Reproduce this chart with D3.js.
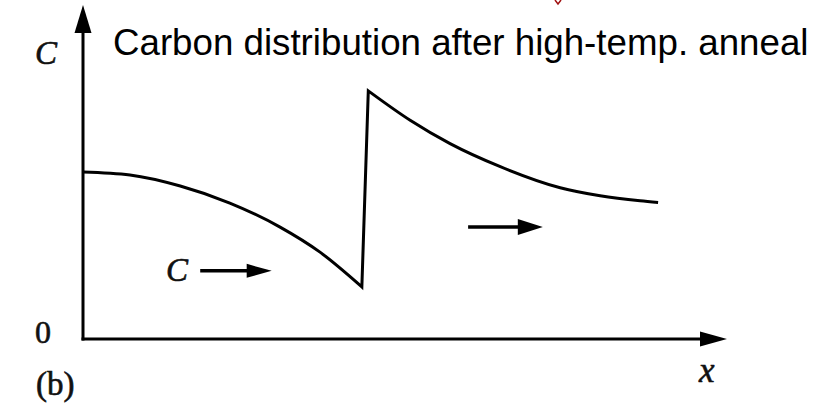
<!DOCTYPE html>
<html>
<head>
<meta charset="utf-8">
<script src="https://cdn.jsdelivr.net/npm/d3@7"></script>
<style>
  html, body { margin: 0; padding: 0; background: #fff; }
  svg { display: block; }
</style>
</head>
<body>
<svg id="chart" width="830" height="406"></svg>
<script>
// Carbon concentration profile (arbitrary units, x and C in 0–100)
const leftX  = [0, 7.3, 15.1, 22.8, 30.6, 36.8, 43.3];
const leftC  = [50.0, 49.1, 45.8, 40.7, 33.5, 26.0, 15.6];
const rightX = [44.3, 50.8, 57.0, 64.8, 74.1, 80.3, 86.5, 89.3];
const rightC = [74.3, 65.5, 58.5, 51.6, 45.3, 42.9, 41.4, 40.9];

// Axis and annotation labels
const yLabel = "C";
const xLabel = "x";
const originLabel = "0";
const panelLabel = "(b)";
const title = "Carbon distribution after high-temp. anneal";
const flowLabel = "C";

const svg = d3.select("#chart");
svg.append("rect").attr("width", 830).attr("height", 406).attr("fill", "#fff");

const x = d3.scaleLinear().domain([0, 100]).range([83, 727]);
const y = d3.scaleLinear().domain([0, 100]).range([339, 5]);

// Arrow-headed axes
const axisColor = "#000";
const ax = svg.append("g");
ax.append("line")
  .attr("x1", x(0)).attr("y1", y(0) + 1.5)
  .attr("x2", x(0)).attr("y2", y(100) + 20)
  .attr("stroke", axisColor).attr("stroke-width", 3);
ax.append("path")
  .attr("d", `M${x(0)},${y(100)} L${x(0) - 8.5},${y(100) + 28} L${x(0) + 8.5},${y(100) + 28} Z`)
  .attr("fill", axisColor);
ax.append("line")
  .attr("x1", x(0) - 1.5).attr("y1", y(0))
  .attr("x2", x(100) - 20).attr("y2", y(0))
  .attr("stroke", axisColor).attr("stroke-width", 3);
ax.append("path")
  .attr("d", `M${x(100)},${y(0)} L${x(100) - 27},${y(0) - 7.5} L${x(100) - 27},${y(0) + 7.5} Z`)
  .attr("fill", axisColor);

// Profile: smooth left branch, vertical jump at the interface, smooth right branch
const line = d3.line().x(d => x(d[0])).y(d => y(d[1])).curve(d3.curveMonotoneX);
const leftPts = leftX.map((v, i) => [v, leftC[i]]);
const rightPts = rightX.map((v, i) => [v, rightC[i]]);
const d = line(leftPts) + line(rightPts).replace(/^M/, "L");
svg.append("path")
  .attr("d", d)
  .attr("fill", "none")
  .attr("stroke", "#000")
  .attr("stroke-width", 3)
  .attr("stroke-linejoin", "miter")
  .attr("stroke-miterlimit", 20);

// Diffusion direction arrows
function arrow(x1, x2, yy, half) {
  svg.append("line")
    .attr("x1", x1).attr("y1", yy).attr("x2", x2 - 20).attr("y2", yy)
    .attr("stroke", "#000").attr("stroke-width", 3.5);
  svg.append("path")
    .attr("d", `M${x2},${yy} L${x2 - 25},${yy - half} L${x2 - 25},${yy + half} Z`)
    .attr("fill", "#000");
}
arrow(x(18.2), x(29.3), y(20.4), 7);
arrow(x(59.8), x(71.4), y(33.5), 8);

const serif = "'Liberation Serif', 'DejaVu Serif', serif";
function serifText(tx, ty, size, italic, str) {
  svg.append("text").attr("x", tx).attr("y", ty)
    .attr("font-family", serif)
    .attr("font-style", italic ? "italic" : "normal")
    .attr("font-size", size)
    .attr("fill", "#111").attr("stroke", "#111").attr("stroke-width", 0.6)
    .text(str);
}
serifText(35, 64, 33, true, yLabel);
serifText(166, 281, 33, true, flowLabel);
serifText(35, 343, 32, false, originLabel);
serifText(36, 395, 33, false, panelLabel);
serifText(699, 382, 35, true, xLabel);

svg.append("text").attr("x", 113).attr("y", 55)
  .attr("font-family", "'Liberation Sans', Arial, sans-serif").attr("font-size", 36.7)
  .attr("fill", "#000")
  .text(title);

// small red mark clipped at the top edge
svg.append("path")
  .attr("d", "M555,0 L558,4 L561,0")
  .attr("fill", "none").attr("stroke", "#a01010").attr("stroke-width", 1.5);
</script>
</body>
</html>
